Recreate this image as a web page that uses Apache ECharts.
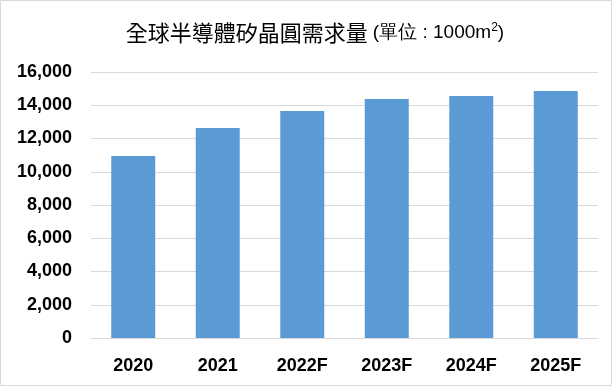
<!DOCTYPE html>
<html><head><meta charset="utf-8">
<script src="https://cdn.jsdelivr.net/npm/echarts@6/dist/echarts.min.js"></script>
<style>html,body{margin:0;padding:0;background:#fff}#c{width:613px;height:387px}</style>
</head><body><div id="c"></div>
<script>
const categories = ['2020', '2021', '2022F', '2023F', '2024F', '2025F'];
const demand = [10950, 12630, 13650, 14370, 14550, 14850];
const yTicks = [0, 2000, 4000, 6000, 8000, 10000, 12000, 14000, 16000];

const chart = echarts.init(document.getElementById('c'), null, {renderer: 'canvas'});
chart.setOption({
  animation: false,
  backgroundColor: '#fff',
  title: {
    text: '{a|全球半導體矽晶圓需求量} {b|(單位 : 1000m}{s|2}{b|)}',
    left: 310, top: 17, textAlign: 'center',
    textStyle: {
      fontWeight: 'normal',
      rich: {
        a: {fontSize: 22, color: '#000', fontFamily: 'Noto Sans CJK TC', fontWeight: 'normal'},
        b: {fontSize: 19, color: '#000', fontFamily: 'Liberation Sans', fontWeight: 'normal'},
        s: {fontSize: 12, color: '#000', fontFamily: 'Liberation Sans', fontWeight: 'normal', verticalAlign: 'top', padding: [0,0,10,0]}
      }
    }
  },
  graphic: [{
    type: 'rect', shape: {x: 0.5, y: 0.5, width: 611, height: 385},
    style: {fill: 'none', stroke: '#d9d9d9', lineWidth: 1}, silent: true
  }],
  grid: {left: 91, right: 15, top: 72, bottom: 49, containLabel: false},
  xAxis: {
    type: 'category', data: categories,
    axisLine: {lineStyle: {color: '#d9d9d9'}},
    axisTick: {show: false},
    axisLabel: {color: '#000', fontWeight: 'bold', fontSize: 18, fontFamily: 'Liberation Sans', margin: 19}
  },
  yAxis: {
    type: 'value', min: yTicks[0], max: yTicks[yTicks.length - 1], interval: 2000,
    axisLine: {show: false}, axisTick: {show: false},
    splitLine: {lineStyle: {color: '#d9d9d9'}},
    axisLabel: {color: '#000', fontWeight: 'bold', fontSize: 18, fontFamily: 'Liberation Sans', margin: 19,
      formatter: v => v.toLocaleString('en-US')}
  },
  series: [{
    type: 'bar', data: demand, barWidth: 44,
    itemStyle: {color: '#5b9bd5'}
  }]
});
</script></body></html>
